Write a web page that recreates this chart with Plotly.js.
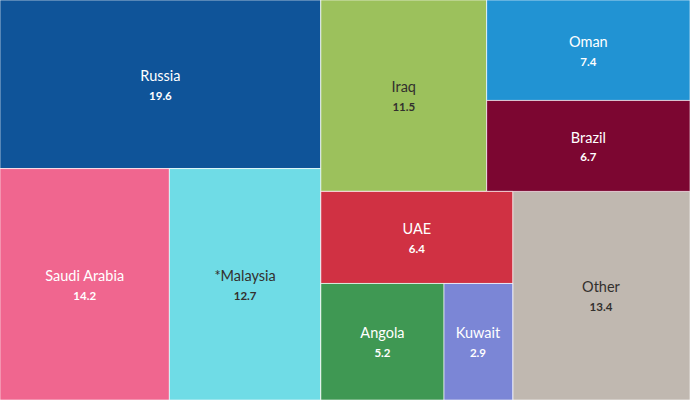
<!DOCTYPE html>
<html>
<head>
<meta charset="utf-8">
<script src="https://cdn.plot.ly/plotly-3.0.1.min.js"></script>
<style>html,body{margin:0;padding:0;background:#fff;}#chart{width:690px;height:400px;}</style>
</head>
<body>
<div id="chart"></div>
<script>
// Nodes (group nodes "g*" only arrange the layout; their value is 0)
const ids     = ["root","gL","Russia","gLB","Saudi Arabia","*Malaysia","gR","gRT","Iraq","gOB","Oman","Brazil","gRB","gUG","UAE","gAK","Angola","Kuwait","Other"];
const labels  = ["","","Russia","","Saudi Arabia","*Malaysia","","","Iraq","","Oman","Brazil","","","UAE","","Angola","Kuwait","Other"];
const parents = ["","root","gL","gL","gLB","gLB","root","gR","gRT","gRT","gOB","gOB","gR","gRB","gUG","gUG","gAK","gAK","gRB"];
const values  = [0,0,19.6,0,14.2,12.7,0,0,11.5,0,7.4,6.7,0,0,6.4,0,5.2,2.9,13.4];
const colors  = ["#ffffff","#ffffff","#0f5499","#ffffff","#f0668f","#6fdce6","#ffffff","#ffffff","#9cc15c","#ffffff","#2193d3","#7c0631","#ffffff","#ffffff","#d03143","#ffffff","#3f9853","#7b86d6","#c0b8b0"];
const textColors = ["rgba(0,0,0,0)","rgba(0,0,0,0)","#ffffff","rgba(0,0,0,0)","#ffffff","#33302e","rgba(0,0,0,0)","rgba(0,0,0,0)","#33302e","rgba(0,0,0,0)","#ffffff","#ffffff","rgba(0,0,0,0)","rgba(0,0,0,0)","#ffffff","rgba(0,0,0,0)","#ffffff","#ffffff","#33302e"];

const templates = ids.map((id, i) => labels[i] ? "%{label}<br><span style='font-size:11.5px'><b>%{value:.1f}</b></span>" : " ");

const trace = {
  type: "treemap",
  ids: ids,
  labels: labels,
  parents: parents,
  values: values,
  branchvalues: "remainder",
  sort: false,
  texttemplate: templates,
  textposition: "middle center",
  textfont: {family: "Lato, 'Open Sans', sans-serif", size: 14.5, color: textColors},
  marker: {
    colors: colors,
    line: {color: "rgba(255,255,255,0.6)", width: 1},
    pad: {t: 0, l: 0, r: 0, b: 0}
  },
  tiling: {packing: "slice-dice", pad: 0},
  pathbar: {visible: false},
  root: {color: "#ffffff"},
  hoverinfo: "label+value"
};

const layout = {
  width: 690, height: 400,
  margin: {l: 0, r: 0, t: 0, b: 0},
  paper_bgcolor: "#ffffff",
  showlegend: false
};

Plotly.newPlot("chart", [trace], layout, {displayModeBar: false, staticPlot: true});
</script>
</body>
</html>
